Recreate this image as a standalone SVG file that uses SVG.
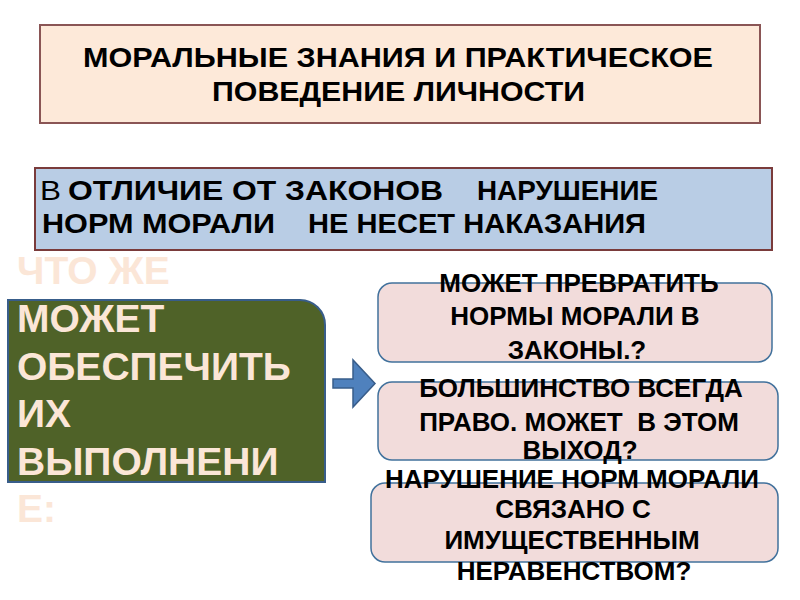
<svg xmlns="http://www.w3.org/2000/svg" width="800" height="600" viewBox="0 0 800 600">
<style>
.t{font-family:"Liberation Sans",Arial,sans-serif;font-weight:bold}
.blk{fill:#000}
.pk{fill:#f2dcdb;stroke:#41719c;stroke-width:1.5}
.pt{font-family:"Liberation Sans",Arial,sans-serif;font-weight:bold;font-size:26px;fill:#000;text-anchor:middle}
.gt{font-family:"Liberation Sans",Arial,sans-serif;font-weight:bold;font-size:39px;fill:#fbe6d7}
</style>
<rect width="800" height="600" fill="#fff"/>
<g id="title">
<rect x="40" y="25" width="720" height="98" fill="#fde9d9" stroke="#8a5555" stroke-width="2"/>
<text class="t blk" font-size="28" x="83" y="67" textLength="630" lengthAdjust="spacingAndGlyphs">МОРАЛЬНЫЕ ЗНАНИЯ И ПРАКТИЧЕСКОЕ</text>
<text class="t blk" font-size="28" x="212" y="101" textLength="373" lengthAdjust="spacingAndGlyphs">ПОВЕДЕНИЕ ЛИЧНОСТИ</text>
</g>
<g id="note">
<rect x="35" y="168" width="737" height="82" fill="#b9cde5" stroke="#7a3b3b" stroke-width="2"/>
<text font-family="Liberation Sans, Arial, sans-serif" font-size="28" x="40" y="200" textLength="21" lengthAdjust="spacingAndGlyphs">В</text>
<text class="t blk" font-size="28" x="68" y="200" textLength="375" lengthAdjust="spacingAndGlyphs">ОТЛИЧИЕ ОТ ЗАКОНОВ</text>
<text class="t blk" font-size="28" x="477" y="200" textLength="181" lengthAdjust="spacingAndGlyphs">НАРУШЕНИЕ</text>
<text class="t blk" font-size="28" x="42" y="233" textLength="233" lengthAdjust="spacingAndGlyphs">НОРМ МОРАЛИ</text>
<text class="t blk" font-size="28" x="308" y="233" textLength="338" lengthAdjust="spacingAndGlyphs">НЕ НЕСЕТ НАКАЗАНИЯ</text>
</g>
<g id="question">
<path d="M8,300 H300 A25,25 0 0 1 325,325 V482 H8 Z" fill="#4f6228" stroke="#385d8a" stroke-width="2"/>
<text class="gt" x="17" y="284">ЧТО ЖЕ</text>
<text class="gt" x="17" y="332">МОЖЕТ</text>
<text class="gt" x="17" y="380">ОБЕСПЕЧИТЬ</text>
<text class="gt" x="17" y="427">ИХ</text>
<text class="gt" x="17" y="475">ВЫПОЛНЕНИ</text>
<text class="gt" x="17" y="522">Е:</text>
</g>
<g id="connectors">
<polygon points="333,379 353,379 353,360 375,383.5 353,407 353,388 333,388" fill="#4f81bd" stroke="#385d8a" stroke-width="1.5"/>
</g>
<g id="answer1">
<rect class="pk" x="378" y="283" width="394" height="79" rx="14"/>
<text class="pt" x="579" y="292">МОЖЕТ ПРЕВРАТИТЬ</text>
<text class="pt" x="575" y="325">НОРМЫ МОРАЛИ В</text>
<text class="pt" x="577" y="359">ЗАКОНЫ.?</text>
</g>
<g id="answer2">
<rect class="pk" x="378" y="382" width="400" height="78" rx="14"/>
<text class="pt" x="581" y="397">БОЛЬШИНСТВО ВСЕГДА</text>
<text class="pt" x="579" y="431" xml:space="preserve">ПРАВО. МОЖЕТ  В ЭТОМ</text>
<text class="pt" x="580" y="459">ВЫХОД?</text>
</g>
<g id="answer3">
<rect class="pk" x="371" y="483" width="407" height="79" rx="14"/>
<text class="pt" x="572" y="488">НАРУШЕНИЕ НОРМ МОРАЛИ</text>
<text class="pt" x="573" y="518">СВЯЗАНО С</text>
<text class="pt" x="572" y="549">ИМУЩЕСТВЕННЫМ</text>
<text class="pt" x="574" y="580">НЕРАВЕНСТВОМ?</text>
</g>
</svg>
